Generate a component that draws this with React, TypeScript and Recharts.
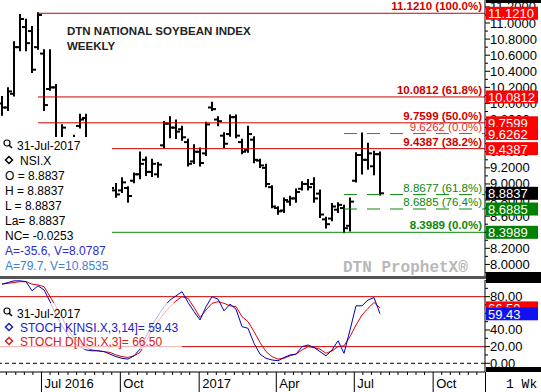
import React from "react";
import { ComposedChart, Bar, Line, XAxis, YAxis, ReferenceLine } from "recharts";

const SANS = '"Liberation Sans", Arial, sans-serif';
const MONO = '"Liberation Mono", "Courier New", monospace';
const RED = "#d00000";
const GREEN = "#0a870a";

/* weekly bars, NSI.X */
const weeks = [
  "2016-05-16", "2016-05-23", "2016-05-30", "2016-06-06", "2016-06-13", "2016-06-20", "2016-06-27", "2016-07-04",
  "2016-07-11", "2016-07-18", "2016-07-25", "2016-08-01", "2016-08-08", "2016-08-15", "2016-08-22", "2016-08-29",
  "2016-09-05", "2016-09-12", "2016-09-19", "2016-09-26", "2016-10-03", "2016-10-10", "2016-10-17", "2016-10-24",
  "2016-10-31", "2016-11-07", "2016-11-14", "2016-11-21", "2016-11-28", "2016-12-05", "2016-12-12", "2016-12-19",
  "2016-12-26", "2017-01-02", "2017-01-09", "2017-01-16", "2017-01-23", "2017-01-30", "2017-02-06", "2017-02-13",
  "2017-02-20", "2017-02-27", "2017-03-06", "2017-03-13", "2017-03-20", "2017-03-27", "2017-04-03", "2017-04-10",
  "2017-04-17", "2017-04-24", "2017-05-01", "2017-05-08", "2017-05-15", "2017-05-22", "2017-05-29", "2017-06-05",
  "2017-06-12", "2017-06-19", "2017-06-26", "2017-07-03", "2017-07-10", "2017-07-17", "2017-07-24", "2017-07-31"
];

const opens = [
  10.0, 9.95, 10.12, 10.7, 10.95, 10.9, 10.7, 10.62, 10.18, 10.2,
  9.5, 9.5, 9.4, 9.72, 9.82, 9.5, 9.25, 9.1, 9.0, 8.92,
  8.92, 8.95, 9.04, 9.12, 9.3, 9.15, 9.12, 9.48, 9.75, 9.7,
  9.68, 9.52, 9.28, 9.4, 9.38, 9.95, 9.8, 9.6, 9.62, 9.83,
  9.52, 9.42, 9.55, 9.29, 9.2, 8.96, 8.7, 8.67, 8.78, 8.82,
  8.94, 9.0, 9.0, 8.88, 8.56, 8.57, 8.68, 8.7, 8.48, 9.04,
  9.36, 9.3, 9.22, 9.37
];
const highs = [
  10.08, 10.19, 10.76, 11.1, 11.04, 10.95, 11.121, 10.66, 10.66, 10.23,
  9.73, 9.55, 9.6, 9.86, 9.86, 9.55, 9.35, 9.2, 9.1, 9.0,
  9.07, 8.96, 9.13, 9.39, 9.33, 9.3, 9.26, 9.77, 9.83, 9.79,
  9.71, 9.55, 9.48, 9.44, 9.76, 10.01, 9.83, 9.63, 9.85, 9.85,
  9.55, 9.71, 9.58, 9.3, 9.24, 8.97, 8.71, 8.82, 8.84, 8.93,
  9.02, 9.05, 9.07, 8.92, 8.58, 8.75, 8.76, 8.73, 8.82, 9.38,
  9.6262, 9.5, 9.4, 9.39
];
const lows = [
  9.86, 9.92, 10.1, 10.66, 10.66, 10.39, 10.68, 9.92, 10.17, 9.45,
  9.4, 9.3, 9.35, 9.7, 9.45, 9.2, 9.05, 8.95, 8.9, 8.84,
  8.9, 8.78, 9.02, 9.07, 9.11, 9.1, 9.09, 9.46, 9.58, 9.57,
  9.55, 9.23, 9.26, 9.23, 9.36, 9.92, 9.73, 9.46, 9.6, 9.58,
  9.38, 9.4, 9.27, 9.21, 8.97, 8.71, 8.63, 8.65, 8.74, 8.78,
  8.93, 8.93, 8.78, 8.59, 8.46, 8.55, 8.65, 8.3989, 8.42, 9.03,
  9.13, 9.19, 9.12, 8.87
];
const closes = [
  9.95, 10.15, 10.7, 11.05, 10.75, 10.42, 11.1, 9.98, 10.2, 9.5,
  9.7, 9.35, 9.55, 9.8, 9.5, 9.25, 9.1, 9.0, 8.95, 8.87,
  9.02, 8.85, 9.12, 9.25, 9.15, 9.25, 9.24, 9.75, 9.7, 9.65,
  9.58, 9.25, 9.4, 9.26, 9.74, 9.93, 9.78, 9.5, 9.83, 9.6,
  9.4, 9.62, 9.3, 9.23, 9.0, 8.72, 8.66, 8.8, 8.82, 8.9,
  9.0, 8.96, 8.82, 8.62, 8.5, 8.72, 8.74, 8.45, 8.78, 9.36,
  9.3, 9.38, 9.37, 8.8837
];

/* stochastics */
const stochK = [
  95, 97, 99, 99, 98, 87, 93, 88, 74, 58, 45, 33, 24, 20, 16, 15,
  15, 14, 11, 8, 6, 5, 9, 17, 32, 46, 57, 68, 76, 81, 86, 73,
  62, 52, 68, 80, 77, 63, 71, 65, 44, 42, 24, 11, 6, 4, 3, 7,
  10, 11, 20, 22, 19, 14, 9, 16, 27, 12, 40, 69, 69, 76, 79, 59.43
];
const stochD = [
  95, 96, 97, 98, 98, 95, 94, 92, 80, 68, 55, 40, 30, 24, 19, 16,
  15, 14, 13, 10, 8, 7, 9, 13, 26, 40, 50, 60, 68, 75, 80, 78,
  67, 55, 64, 72, 74, 72, 69, 68, 56, 50, 38, 25, 14, 8, 5, 6,
  9, 11, 16, 20, 19, 17, 12, 15, 20, 21, 32, 46, 58, 66, 73, 66.5
];

/* fibonacci retracements */
const fibLevels = [11.121, 10.0812, 9.7599, 9.4387, 8.3989];
const fibPcts = ["100.0%", "61.8%", "50.0%", "38.2%", "0.0%"];
const fibColors = [RED, RED, RED, RED, GREEN];
const fibStart = "2016-06-27";

const retLevels = [9.6262, 8.8677, 8.6885];
const retPcts = ["0.0%", "61.8%", "76.4%"];
const retColors = ["#e03030", GREEN, GREEN];
const retStart = "2017-06-19";

/* right axis tags */
const tagValues = [11.121, 10.0812, 9.7599, 9.6262, 9.4387, 8.8837, 8.6885, 8.3989];
const tagColors = ["#ff0000", "#ff0000", "#ff0000", "#ff0000", "#ff0000", "#000000", "#008000", "#008000"];
const stochTagValues = [66.5, 59.43];
const stochTagColors = ["#ff0000", "#1010f0"];

const priceTicks = [
  7.9, 8.0, 8.1, 8.2, 8.3, 8.4, 8.5, 8.6, 8.7, 8.8, 8.9, 9.0, 9.1, 9.2, 9.3, 9.4, 9.5,
  9.6, 9.7, 9.8, 9.9, 10.0, 10.1, 10.2, 10.3, 10.4, 10.5, 10.6, 10.7, 10.8, 10.9, 11.0, 11.1, 11.2
];
const stochTicks = [0, 10, 20, 30, 40, 50, 60, 70, 80, 90, 100];
const monthTicks = ["2016-07-01", "2016-10-01", "2017-01-01", "2017-04-01", "2017-07-01", "2017-10-01"];
const monthLabels = ["Jul 2016", "Oct", "2017", "Apr", "Jul", "Oct"];

const DAY0 = Date.UTC(2016, 6, 1);
const toDay = (s: string) => (Date.parse(s) - DAY0) / 86400000;
const X_MIN = -48.4;
const X_MAX = 517.5;
const PRICE_DOMAIN = [7.856, 11.286];
const STOCH_DOMAIN = [-10.45, 100];

const monthTickDays = monthTicks.map(toDay);
const xTicks: number[] = [];
for (let y = 2016; y <= 2017; y++) {
  for (let m = 0; m < 12; m++) {
    for (const d of [1, 11, 21]) {
      const t = (Date.UTC(y, m, d) - DAY0) / 86400000;
      if (t > X_MIN && t < X_MAX) xTicks.push(t);
    }
  }
}

const rows = weeks.map((w, i) => ({
  day: toDay(w),
  range: [lows[i], highs[i]],
  open: opens[i],
  high: highs[i],
  low: lows[i],
  close: closes[i],
  k: stochK[i],
  d: stochD[i]
}));

const OhlcBar = (props: any) => {
  const { x, y, width, height, payload } = props;
  if (x == null || y == null) return null;
  const cx = Math.round(x + width / 2);
  const top = Math.min(y, y + height);
  const h = Math.abs(height);
  const span = payload.high - payload.low;
  const yOf = (v: number) => (span > 0 ? top + ((payload.high - v) / span) * h : top);
  const yo = yOf(payload.open);
  const yc = yOf(payload.close);
  return (
    <g stroke="#000" strokeWidth={2}>
      <line x1={cx} x2={cx} y1={top - 1} y2={top + h + 1} />
      <line x1={cx - 4} x2={cx} y1={yo} y2={yo} />
      <line x1={cx} x2={cx + 4} y1={yc} y2={yc} />
    </g>
  );
};

const FibText = ({ viewBox, txt, color, bold }: any) => {
  if (!viewBox) return null;
  return (
    <text
      x={viewBox.x + viewBox.width - 3}
      y={viewBox.y - 3}
      textAnchor="end"
      fill={color}
      fontSize={11.5}
      fontWeight={bold ? 700 : 400}
      fontFamily={SANS}
    >
      {txt}
    </text>
  );
};

const AxisTag = ({ viewBox, txt, bg }: any) => {
  if (!viewBox) return null;
  const left = viewBox.x + viewBox.width;
  return (
    <g>
      <rect x={left + 1} y={viewBox.y - 6.5} width={52} height={13} fill={bg} />
      <text x={left + 3} y={viewBox.y + 5} fill="#fff" fontSize={13} fontFamily={SANS}>
        {txt}
      </text>
    </g>
  );
};

const PriceTick = (props: any) => {
  const { x, y, payload } = props;
  const v = payload.value;
  const major = Math.round(v * 10) % 2 === 0;
  return (
    <g>
      <line x1={x} x2={x + (major ? 5 : 3)} y1={y} y2={y} stroke="#000" />
      {major && (
        <text x={x + 5} y={y + 4.5} fontSize={13} fontFamily={SANS} fill="#000">
          {v.toFixed(4)}
        </text>
      )}
    </g>
  );
};

const StochTick = (props: any) => {
  const { x, y, payload } = props;
  const v = payload.value;
  const major = v % 20 === 0 && v < 100;
  return (
    <g>
      <line x1={x} x2={x + (major ? 5 : 3)} y1={y} y2={y} stroke="#000" />
      {major && (
        <text x={x + 5} y={y + 4.5} fontSize={13} fontFamily={SANS} fill="#000">
          {v.toFixed(2)}
        </text>
      )}
    </g>
  );
};

const DateTick = (props: any) => {
  const { x, y, payload } = props;
  const idx = monthTickDays.findIndex((t) => Math.abs(t - payload.value) < 0.01);
  if (idx >= 0) {
    return (
      <g>
        <line x1={x} x2={x} y1={y} y2={y + 20} stroke="#000" />
        <text x={x + 3} y={y + 16} fontSize={13} fontFamily={SANS} fill="#000">
          {monthLabels[idx]}
        </text>
      </g>
    );
  }
  return <line x1={x} x2={x} y1={y} y2={y + 3} stroke="#000" />;
};

const Magnifier = ({ x, y }: { x: number; y: number }) => (
  <g stroke="#000" fill="none" strokeWidth={1.2}>
    <circle cx={x} cy={y} r={3} />
    <line x1={x + 2.2} y1={y + 2.2} x2={x + 5} y2={y + 5} strokeWidth={1.6} />
  </g>
);

const Diamond = ({ x, y, color }: { x: number; y: number; color: string }) => (
  <polygon
    points={`${x},${y - 3.5} ${x + 3.5},${y} ${x},${y + 3.5} ${x - 3.5},${y}`}
    stroke={color}
    strokeWidth={1.5}
    fill="none"
  />
);

// blank axes used by the tag overlays so they share the chart scales
const blankY = (domain: number[]) => (
  <YAxis
    orientation="right"
    width={56}
    type="number"
    domain={domain}
    allowDataOverflow
    tick={false}
    tickLine={false}
    axisLine={false}
  />
);

export default function App() {
  const legendLines = ["O = 8.8837", "H = 8.8837", "L = 8.8837", "La= 8.8837", "NC= -0.0253"];
  return (
    <div style={{ position: "absolute", left: 0, top: 0, width: 541, height: 392, background: "#fff" }}>
      {/* price panel */}
      <div style={{ position: "absolute", left: 0, top: 0 }}>
        <ComposedChart width={541} height={276} data={rows} margin={{ top: 0, right: 0, bottom: 0, left: 0 }}>
          <XAxis dataKey="day" type="number" domain={[X_MIN, X_MAX]} allowDataOverflow hide />
          <YAxis
            orientation="right"
            width={56}
            type="number"
            domain={PRICE_DOMAIN}
            allowDataOverflow
            ticks={priceTicks}
            interval={0}
            tick={<PriceTick />}
            tickLine={false}
            tickSize={0}
            tickMargin={0}
            axisLine={{ stroke: "#000" }}
          />
          {fibLevels.map((lvl, i) => (
            <ReferenceLine
              key={"f" + i}
              segment={[{ x: toDay(fibStart), y: lvl }, { x: X_MAX, y: lvl }]}
              stroke={fibColors[i]}
              strokeWidth={1}
            />
          ))}
          {retLevels.map((lvl, i) => (
            <ReferenceLine
              key={"r" + i}
              segment={[{ x: toDay(retStart), y: lvl }, { x: X_MAX, y: lvl }]}
              stroke={retColors[i]}
              strokeWidth={1}
              strokeDasharray="13 10"
            />
          ))}
          <Bar dataKey="range" barSize={4} shape={<OhlcBar />} isAnimationActive={false} />
          {fibLevels.map((lvl, i) => (
            <ReferenceLine
              key={"ft" + i}
              y={lvl}
              stroke="none"
              label={<FibText txt={`${lvl.toFixed(4)} (${fibPcts[i]})`} color={fibColors[i]} bold />}
            />
          ))}
          {retLevels.map((lvl, i) => (
            <ReferenceLine
              key={"rt" + i}
              y={lvl}
              stroke="none"
              label={<FibText txt={`${lvl.toFixed(4)} (${retPcts[i]})`} color={retColors[i]} bold={false} />}
            />
          ))}
        </ComposedChart>
      </div>
      <div style={{ position: "absolute", left: 0, top: 0 }}>
        <ComposedChart width={541} height={276} data={rows} margin={{ top: 0, right: 0, bottom: 0, left: 0 }}>
          <XAxis dataKey="day" type="number" domain={[X_MIN, X_MAX]} allowDataOverflow hide />
          {blankY(PRICE_DOMAIN)}
          {tagValues.map((v, i) => (
            <ReferenceLine key={"t" + i} y={v} stroke="none" label={<AxisTag txt={v.toFixed(4)} bg={tagColors[i]} />} />
          ))}
        </ComposedChart>
      </div>

      {/* stochastic panel */}
      <div style={{ position: "absolute", left: 0, top: 280 }}>
        <ComposedChart width={541} height={112} data={rows} margin={{ top: 0, right: 0, bottom: 0, left: 0 }}>
          <XAxis
            dataKey="day"
            type="number"
            domain={[X_MIN, X_MAX]}
            allowDataOverflow
            ticks={xTicks}
            interval={0}
            height={20}
            tick={<DateTick />}
            tickLine={false}
            tickSize={0}
            tickMargin={0}
            axisLine={{ stroke: "#000" }}
          />
          <YAxis
            orientation="right"
            width={56}
            type="number"
            domain={STOCH_DOMAIN}
            allowDataOverflow
            ticks={stochTicks}
            interval={0}
            tick={<StochTick />}
            tickLine={false}
            tickSize={0}
            tickMargin={0}
            axisLine={{ stroke: "#000" }}
          />
          <ReferenceLine y={80} stroke={RED} strokeWidth={1} />
          <ReferenceLine y={20} stroke={RED} strokeWidth={1} />
          <ReferenceLine y={0} stroke="#000" strokeWidth={1} strokeDasharray="4 3" />
          <Line dataKey="d" stroke="#e00000" strokeWidth={1} dot={false} isAnimationActive={false} />
          <Line dataKey="k" stroke="#0000c0" strokeWidth={1} dot={false} isAnimationActive={false} />
        </ComposedChart>
      </div>
      <div style={{ position: "absolute", left: 0, top: 280 }}>
        <ComposedChart width={541} height={112} data={rows} margin={{ top: 0, right: 0, bottom: 0, left: 0 }}>
          <XAxis dataKey="day" type="number" domain={[X_MIN, X_MAX]} allowDataOverflow height={20} tick={false} tickLine={false} axisLine={false} />
          {blankY(STOCH_DOMAIN)}
          {stochTagValues.map((v, i) => (
            <ReferenceLine key={"s" + i} y={v} stroke="none" label={<AxisTag txt={v.toFixed(2)} bg={stochTagColors[i]} />} />
          ))}
        </ComposedChart>
      </div>

      <svg width={541} height={392} style={{ position: "absolute", left: 0, top: 0, pointerEvents: "none" }}>
        {/* frame pieces */}
        <rect x={486} y={0} width={55} height={3} fill="#000" />
        <rect x={486} y={272} width={55} height={11} fill="#000" />
        <rect x={0} y={276} width={486} height={3} fill="#555" />
        <rect x={486} y={367} width={55} height={5} fill="#000" />
        <line x1={485.5} y1={372} x2={485.5} y2={392} stroke="#000" />
        <text x={506} y={388} fontSize={13} fontFamily={MONO} fill="#000">1 Wk</text>

        {/* title */}
        <text x={67} y={35} fontSize={11.5} fontWeight={700} fontFamily={SANS} fill="#222">
          DTN NATIONAL SOYBEAN INDEX
        </text>
        <text x={67} y={50} fontSize={11.5} fontWeight={700} fontFamily={SANS} fill="#222">
          WEEKLY
        </text>

        {/* watermark */}
        <text x={343} y={272} fontSize={16} fontWeight={700} fontFamily={MONO} fill="#b8b8b8">
          DTN ProphetX®
        </text>

        {/* price legend */}
        <rect x={0} y={137} width={112} height={139} fill="#fff" />
        <Magnifier x={7} y={143} />
        <text x={17} y={150} fontSize={12} fontFamily={SANS} fill="#000">31-Jul-2017</text>
        <Diamond x={9} y={160} color="#000" />
        <text x={20} y={165} fontSize={12} fontFamily={SANS} fill="#000">NSI.X</text>
        {legendLines.map((t, i) => (
          <text key={t} x={5} y={180 + i * 15} fontSize={12} fontFamily={SANS} fill="#000">
            {t}
          </text>
        ))}
        <text x={5} y={255} fontSize={12} fontFamily={SANS} fill="#2b2bd0">A=-35.6, V=8.0787</text>
        <text x={5} y={270} fontSize={12} fontFamily={SANS} fill="#3b7fd0">A=79.7, V=10.8535</text>

        {/* stochastic legend */}
        <rect x={0} y={303} width={182} height={46} fill="#fff" fillOpacity={0.7} />
        <Magnifier x={7} y={311} />
        <text x={17} y={318} fontSize={12} fontFamily={SANS} fill="#000">31-Jul-2017</text>
        <Diamond x={9} y={327} color="#2020c8" />
        <text x={20} y={332} fontSize={12} fontFamily={SANS} fill="#2020c8">STOCH K[NSI.X,3,14]= 59.43</text>
        <Diamond x={9} y={341} color="#d82020" />
        <text x={20} y={346} fontSize={12} fontFamily={SANS} fill="#d82020">STOCH D[NSI.X,3]= 66.50</text>
      </svg>
    </div>
  );
}
